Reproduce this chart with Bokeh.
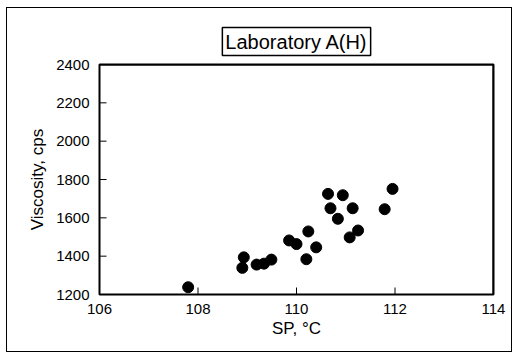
from bokeh.plotting import figure
from bokeh.models import FixedTicker, Span, ColumnDataSource
from bokeh.embed import file_html
from bokeh.resources import INLINE

# Data
sp = [107.80, 108.90, 108.93, 109.19, 109.34, 109.49, 109.85, 110.00, 110.20, 110.24,
      110.40, 110.64, 110.69, 110.84, 110.94, 111.08, 111.14, 111.25, 111.79, 111.95]
viscosity = [1238, 1339, 1394, 1356, 1361, 1382, 1482, 1463, 1384, 1529,
             1446, 1725, 1650, 1595, 1718, 1498, 1650, 1534, 1645, 1751]
x_ticks = [106, 108, 110, 112, 114]
y_ticks = [1200, 1400, 1600, 1800, 2000, 2200, 2400]
title_text = "Laboratory A(H)"
x_label = "SP, °C"
y_label = "Viscosity, cps"

FONT = "Liberation Sans"
X0, X1 = x_ticks[0], x_ticks[-1]
Y0, Y1 = y_ticks[0], y_ticks[-1]

W, H = 506, 345
BL, BR, BT, BB = 92, 20, 56, 59
frame_w = W - BL - BR
frame_h = H - BT - BB
TICK_PX = 7

p = figure(width=W, height=H, x_range=(X0, X1), y_range=(Y0, Y1),
           output_backend="svg", toolbar_location=None, title=title_text,
           min_border_left=BL, min_border_right=BR, min_border_top=BT, min_border_bottom=BB,
           styles={"border": "1px solid black", "margin-left": "6px", "margin-top": "7px"})
p.outline_line_color = "black"
p.outline_line_width = 2
p.grid.visible = False

# boxed title
p.title.align = "center"
p.title.vertical_align = "top"
p.title.text_font = FONT
p.title.text_font_size = "20px"
p.title.text_font_style = "normal"
p.title.text_color = "black"
p.title.background_fill_color = "white"
p.title.border_line_color = "black"
p.title.border_line_width = 1.5
p.title.padding = 3
p.title.standoff = 14

for ax in (p.xaxis[0], p.yaxis[0]):
    ax.major_tick_in = 0
    ax.major_tick_out = 0
    ax.minor_tick_line_color = None
    ax.axis_line_color = "black"
    ax.major_label_text_font = FONT
    ax.major_label_text_font_size = "15px"
    ax.major_label_text_color = "black"
    ax.axis_label_text_font = FONT
    ax.axis_label_text_font_size = "17px"
    ax.axis_label_text_font_style = "normal"
    ax.axis_label_text_color = "black"

p.xaxis.ticker = FixedTicker(ticks=x_ticks)
p.yaxis.ticker = FixedTicker(ticks=y_ticks)
p.xaxis.axis_label = x_label
p.yaxis.axis_label = y_label
p.xaxis.major_label_standoff = 9
p.yaxis.major_label_standoff = 10
p.xaxis.axis_label_standoff = 2
p.yaxis.axis_label_standoff = 6

# top and right edges of the plot box
p.add_layout(Span(location=Y1, dimension="width", line_color="black", line_width=2))
p.add_layout(Span(location=X1, dimension="height", line_color="black", line_width=2))

# inward tick marks, drawn from the tick lists
dx = TICK_PX * (X1 - X0) / frame_w
dy = TICK_PX * (Y1 - Y0) / frame_h
p.segment(x0=x_ticks, y0=[Y0] * len(x_ticks), x1=x_ticks, y1=[Y0 + dy] * len(x_ticks),
          line_color="black", line_width=1)
p.segment(x0=[X0] * len(y_ticks), y0=y_ticks, x1=[X0 + dx] * len(y_ticks), y1=y_ticks,
          line_color="black", line_width=1)

src = ColumnDataSource(dict(sp=sp, viscosity=viscosity))
p.scatter("sp", "viscosity", source=src, size=11, color="black")

open("out.html", "w").write(file_html(p, INLINE))
